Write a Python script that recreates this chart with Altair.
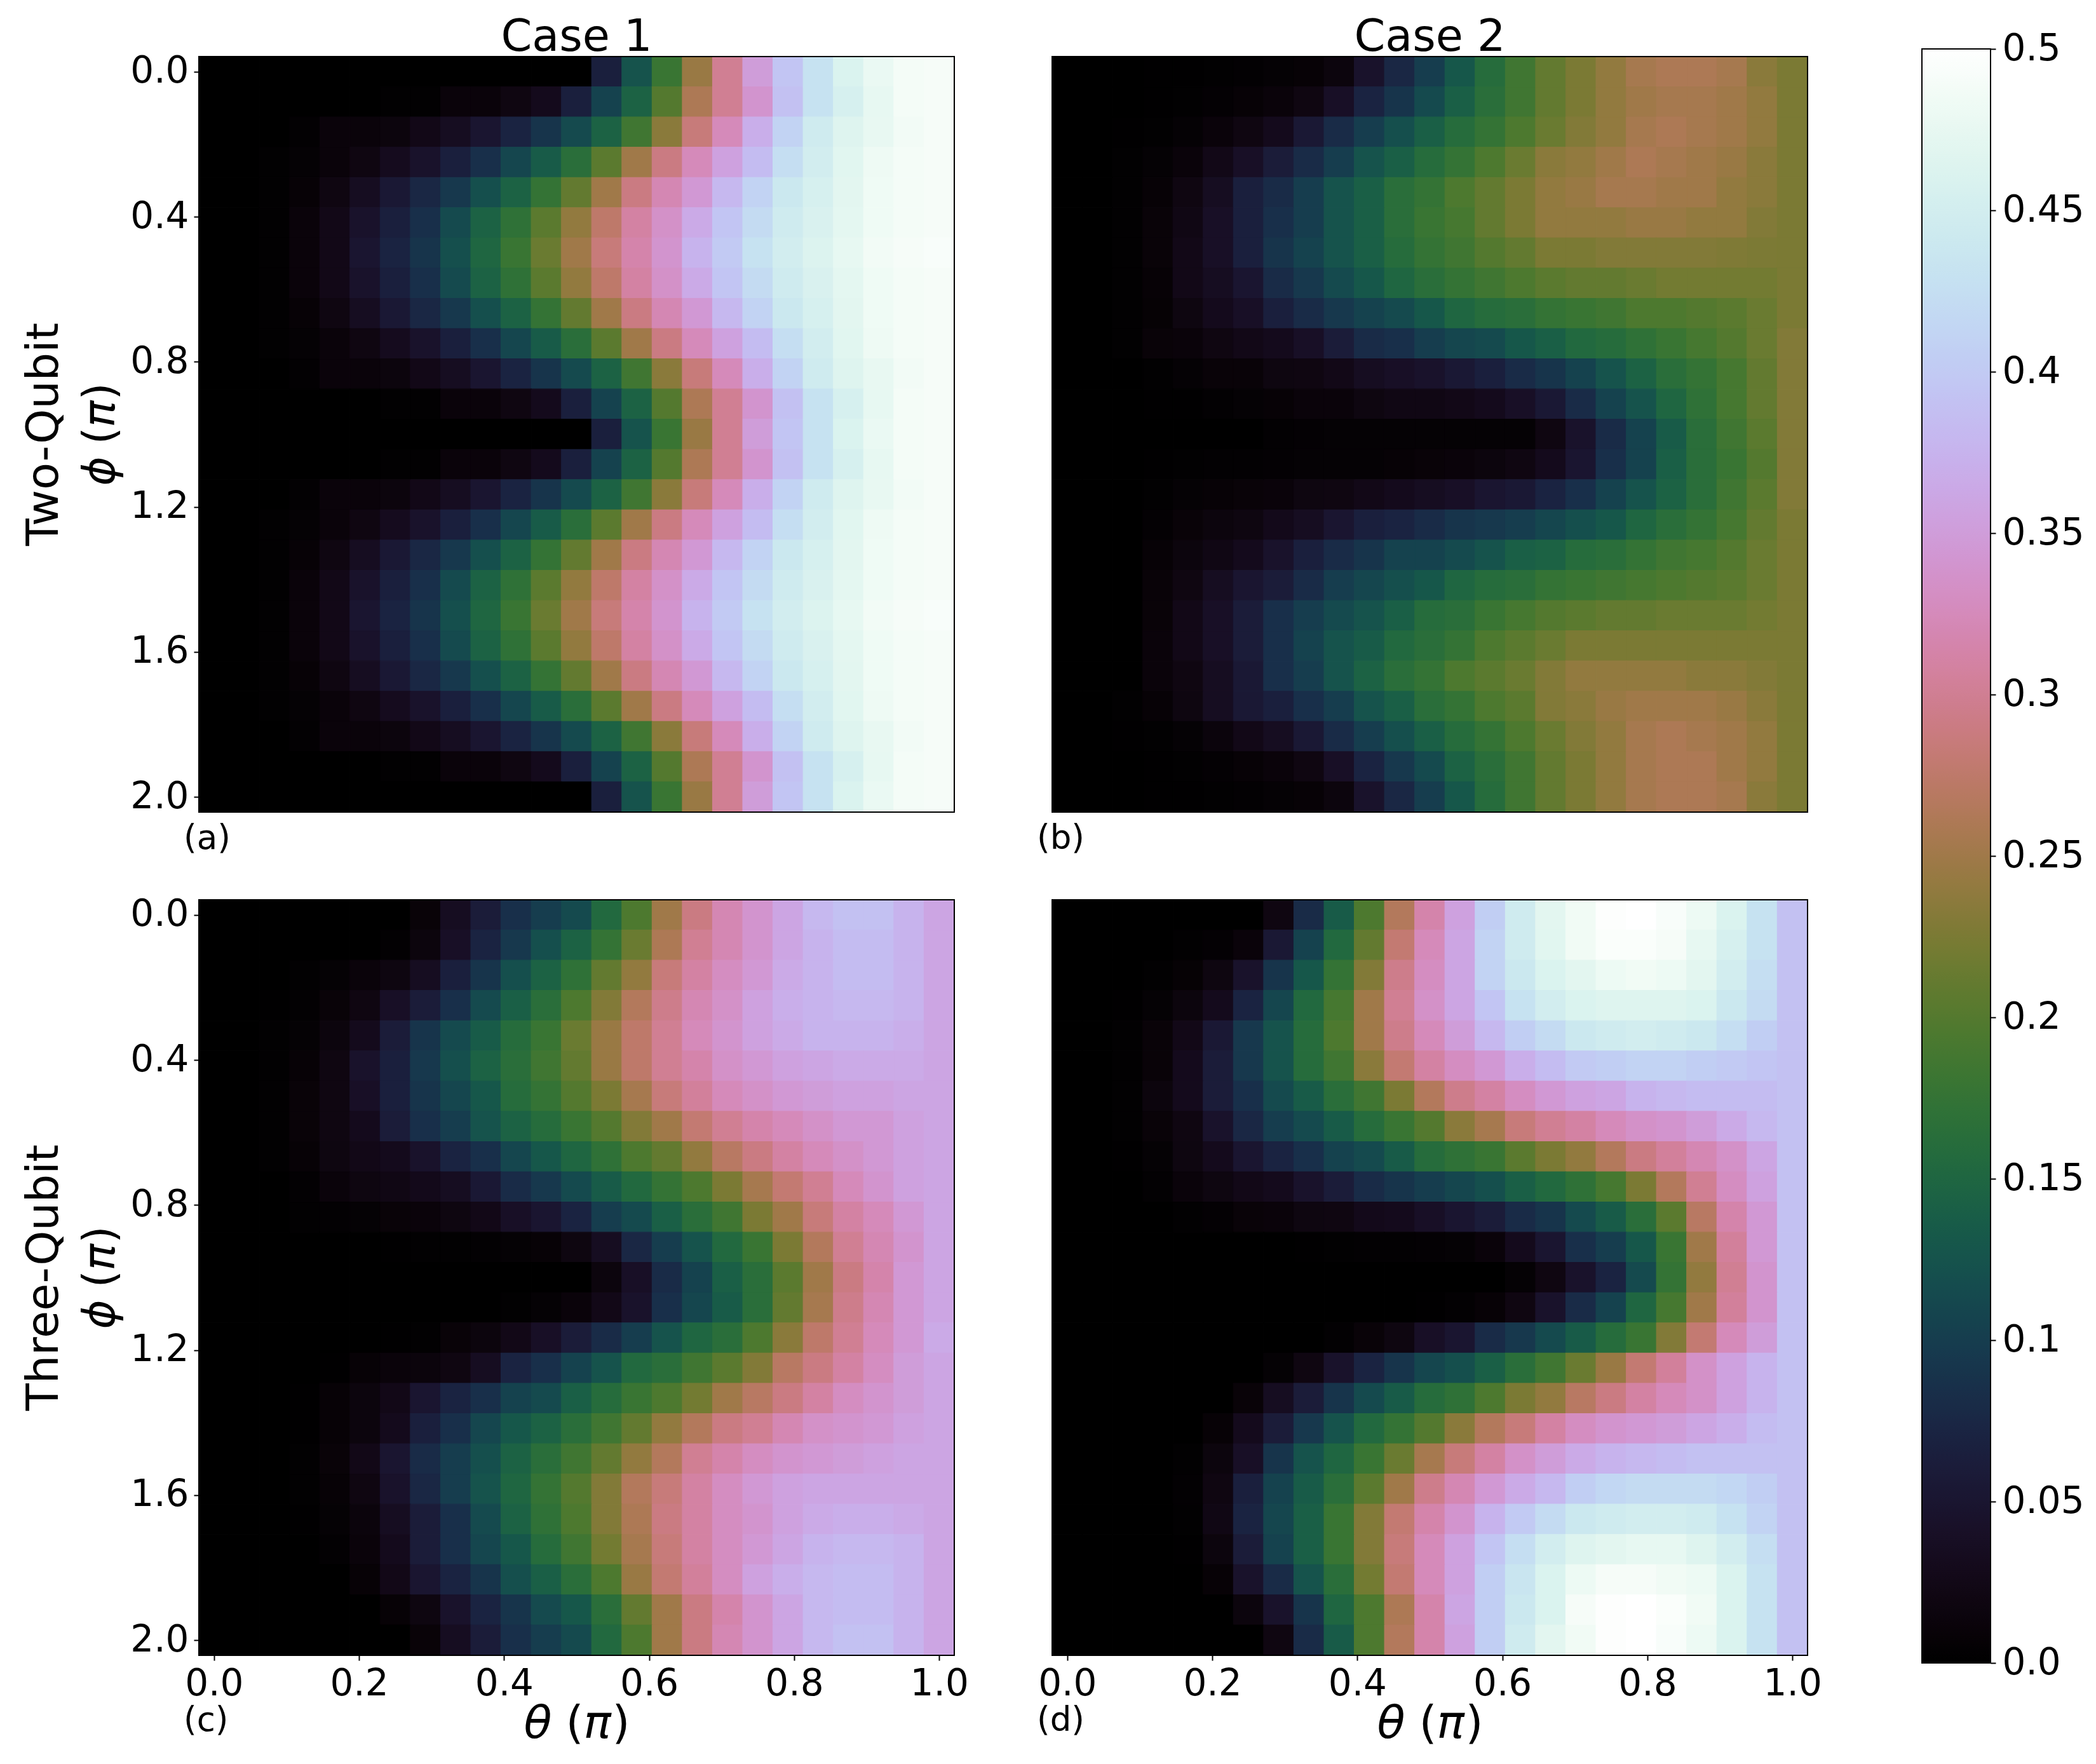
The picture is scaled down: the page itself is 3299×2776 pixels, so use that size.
import altair as alt
import numpy as np
import pandas as pd

FONT = "DejaVu Sans"
N = 25
THETA = [i / 24 for i in range(N)]
PHI = [i / 12 for i in range(N)]
X_TICKS = [0.0, 0.2, 0.4, 0.6, 0.8, 1.0]
Y_TICKS = [0.0, 0.4, 0.8, 1.2, 1.6, 2.0]
CBAR_TICKS = [0.0, 0.05, 0.1, 0.15, 0.2, 0.25, 0.3, 0.35, 0.4, 0.45, 0.5]

# Cell values in thousandths. Each row lists its cells up to the last
# column; the cells left out at the start of a row are black (zero).
A0 = [65,125,180,245,300,350,395,430,460,478,488,490]
A1 = [3,3,12,12,20,30,65,105,145,200,260,300,340,390,430,455,475,488,490]
A2 = [4,12,12,15,25,35,50,70,90,115,145,185,235,285,325,370,410,445,465,476,486,490]
A3 = [2,6,12,20,32,45,65,85,110,135,165,205,250,290,325,355,385,425,450,468,482,488,490]
A4 = [2,8,20,35,55,75,95,120,145,175,210,250,290,320,345,380,410,440,455,470,483,488,490]
A5 = [3,12,25,45,65,85,115,145,170,205,240,275,310,335,365,395,420,445,458,472,483,488,490]
A6 = [3,12,25,50,70,90,120,150,180,215,250,285,315,340,375,400,430,450,462,475,486,490,492]
PANEL_A = [A0,A1,A2,A3,A4,A5,A6,A5,A4,A3,A2,A1,A0,A1,A2,A3,A4,A5,A6,A5,A4,A3,A2,A1,A0]

PANEL_B = [
    [1,1,2,4,6,8,15,45,75,100,130,160,185,210,225,240,255,260,260,255,235,225],
    [1,3,5,8,12,20,40,70,90,115,140,165,185,210,225,240,250,255,255,250,240,225],
    [1,3,6,12,20,30,55,80,100,120,140,160,175,195,215,230,240,255,260,255,250,240,225],
    [2,6,12,25,40,60,80,100,125,140,160,175,195,215,235,240,250,260,255,250,245,235,225],
    [3,8,20,35,65,80,100,125,140,165,175,195,210,225,240,245,255,255,250,250,240,235,225],
    [3,10,22,40,65,85,100,125,140,165,180,190,210,225,240,240,240,245,245,240,240,230,225],
    [3,10,25,40,65,90,105,125,140,160,175,185,200,210,225,225,230,230,230,230,228,226,225],
    [2,8,25,35,50,80,95,115,130,150,165,175,185,195,205,210,210,215,220,220,220,220,225],
    [2,7,18,30,40,65,80,95,105,115,130,150,160,165,175,180,185,195,195,200,205,215,225],
    [2,10,12,20,25,30,40,60,80,85,100,110,115,130,140,155,160,170,180,190,200,215,230],
    [2,6,10,10,18,20,25,35,40,45,55,65,80,90,105,125,145,165,175,190,210,230],
    [1,1,4,6,8,12,12,18,22,22,25,30,40,55,80,105,125,150,170,190,210,230],
    [4,5,6,6,6,6,6,6,6,20,45,80,105,135,165,185,205,230],
    [1,3,4,4,5,6,6,6,8,10,12,15,20,30,50,85,105,140,165,180,200,230],
    [2,6,8,10,12,18,20,25,30,35,40,50,55,70,85,105,125,145,165,185,205,230],
    [5,10,15,18,28,35,50,65,70,80,90,95,100,110,120,130,150,165,175,190,210,225],
    [8,15,22,30,45,65,80,90,105,105,115,125,140,145,160,165,175,185,190,200,215,225],
    [10,20,35,50,60,80,100,110,120,130,150,160,165,175,180,185,190,195,200,205,215,225],
    [10,25,40,60,85,100,115,125,140,160,165,180,190,200,205,210,210,215,215,215,220,225],
    [12,25,40,60,85,105,125,135,155,165,175,195,205,215,225,225,225,225,225,225,225,225],
    [12,20,35,55,85,100,125,145,165,175,195,205,215,230,240,240,240,240,235,235,230,225],
    [2,8,18,35,55,65,85,100,125,140,165,175,195,205,230,235,245,250,250,250,245,235,225],
    [1,3,6,14,25,35,55,80,100,120,140,160,175,195,215,230,240,255,260,255,250,240,225],
    [1,3,5,8,12,20,40,70,95,115,145,165,185,210,225,240,255,260,260,250,240,225],
    [1,1,2,4,6,8,15,45,75,100,130,160,185,210,225,240,255,260,260,255,235,225],
]

PANEL_C = [
    [10,35,60,85,100,115,155,195,250,290,320,340,360,380,390,390,375,360],
    [4,15,40,70,95,120,145,175,215,260,300,320,340,360,375,385,385,375,360],
    [2,6,12,18,35,65,90,120,145,170,210,240,285,310,330,345,365,375,385,385,375,360],
    [1,4,10,20,40,60,85,115,140,165,195,230,265,295,320,335,355,370,375,380,380,375,360],
    [2,6,15,30,60,90,115,135,160,180,215,245,275,300,325,340,355,365,375,375,375,370,360],
    [2,8,20,45,65,95,120,145,165,185,210,245,275,300,315,335,345,355,360,365,365,365,360],
    [2,10,20,40,65,90,110,130,160,175,200,225,255,285,305,325,335,345,350,355,355,360,360],
    [2,10,20,30,60,85,100,125,145,160,180,200,230,250,280,300,315,325,335,345,345,355,360],
    [2,8,18,25,30,45,70,85,110,130,150,170,195,210,240,270,290,310,325,335,345,355,360],
    [4,12,18,22,28,35,55,80,95,115,135,155,175,195,225,255,280,300,325,340,355,360],
    [2,4,6,10,12,18,25,40,50,70,100,115,140,165,185,225,250,285,310,325,345,360],
    [1,2,3,4,6,8,18,35,75,100,125,155,180,225,265,300,320,340,360],
    [15,40,80,105,140,165,205,250,290,315,345,360],
    [2,6,12,25,45,85,110,135,165,210,255,295,320,345,360],
    [1,3,10,15,25,40,60,80,100,125,150,165,195,235,275,300,325,345,365],
    [1,8,12,14,20,35,70,85,105,125,155,165,185,205,230,270,290,310,330,350,360],
    [1,8,15,25,50,70,85,105,115,140,160,180,195,220,250,270,290,310,330,340,350,360],
    [1,8,15,30,65,85,110,130,145,165,185,210,240,265,290,300,320,335,340,345,355,360],
    [3,10,25,50,80,100,120,145,165,185,210,240,265,300,315,330,340,345,350,355,360,360],
    [3,8,20,45,75,100,125,150,175,200,230,265,285,310,330,345,355,360,360,360,360,360],
    [1,6,14,35,60,85,115,145,170,195,230,260,290,310,330,340,355,365,370,370,365,360],
    [4,12,30,60,85,110,130,160,185,220,255,285,310,330,345,360,375,380,380,375,360],
    [8,25,50,70,90,120,140,165,195,245,280,305,330,355,370,380,385,385,375,360],
    [8,18,45,70,90,115,130,165,210,250,290,315,340,360,380,385,385,375,360],
    [10,35,60,85,100,115,155,195,250,290,320,340,360,380,390,390,375,360],
]

PANEL_D = [
    [20,80,135,195,265,315,355,405,445,470,485,498,500,492,480,460,430,390],
    [2,5,12,55,105,155,210,280,325,360,410,445,468,485,495,495,490,475,455,430,390],
    [3,7,18,45,90,130,175,230,295,330,360,410,440,460,470,480,485,480,470,450,425,390],
    [1,6,15,30,70,110,155,190,250,300,335,360,395,430,450,460,465,465,465,460,440,420,390],
    [2,10,25,55,95,125,160,195,250,295,325,350,380,405,420,440,445,450,445,440,425,405,390],
    [2,10,30,60,95,125,160,185,235,280,310,330,345,370,385,400,405,410,410,405,400,395,390],
    [2,15,30,60,85,115,135,165,185,225,265,295,310,330,345,355,360,375,380,385,385,385,390],
    [2,10,20,45,75,100,115,135,160,180,200,235,255,285,300,310,325,335,340,350,365,380,390],
    [1,6,18,30,50,70,85,105,115,135,160,170,180,205,225,240,265,290,305,320,335,360,390],
    [4,12,18,25,30,45,60,80,90,100,110,120,140,155,170,190,225,265,300,330,355,390],
    [2,5,10,12,18,20,28,30,40,50,60,80,90,115,135,165,205,270,315,345,390],
    [1,3,4,4,5,6,12,30,50,85,100,130,180,250,305,345,390],
    [6,20,45,70,115,175,240,300,340,390],
    [1,4,8,20,45,80,105,150,190,250,305,340,390],
    [4,10,18,40,50,80,95,115,135,160,180,230,280,325,350,390],
    [6,20,45,70,90,110,120,140,165,185,215,245,280,305,335,355,375,390],
    [10,35,60,90,115,135,160,170,195,225,240,270,290,310,325,335,355,375,390],
    [8,30,60,95,125,155,175,200,235,265,285,310,330,340,345,350,360,370,385,390],
    [2,15,40,90,125,150,180,215,255,285,310,335,350,365,375,380,385,390,390,390,390],
    [4,20,65,105,135,165,205,250,295,320,345,365,380,405,415,420,420,420,415,405,390],
    [3,22,70,110,140,180,230,280,315,340,375,400,420,440,445,450,450,445,430,410,390],
    [1,15,60,105,140,180,230,285,325,355,395,425,450,465,470,475,475,465,450,425,390],
    [8,45,80,125,165,220,280,325,355,405,435,460,480,490,490,485,480,460,430,390],
    [15,45,90,150,195,260,315,360,405,440,460,490,498,500,495,485,460,430,390],
    [20,80,135,195,265,315,355,405,445,470,485,498,500,492,480,460,430,390],
]

VIEW = 1189
MID = VIEW / 2
COL_GAP = 154
ROW_GAP = 138
TICK_FONT = 58
TITLE_FONT = 70
LABEL_FONT = 70
THETA_FONT = 72
CAPTION_FONT = 53


def helix(x):
    a = x * (1 - x) / 2
    p = 2 * np.pi * (0.5 / 3 - 1.5 * x)
    r = x + a * (-0.14861 * np.cos(p) + 1.78277 * np.sin(p))
    g = x + a * (-0.29227 * np.cos(p) - 0.90649 * np.sin(p))
    b = x + a * (1.97294 * np.cos(p))
    rgb = [int(round(255 * min(1, max(0, c)))) for c in (r, g, b)]
    return "#%02x%02x%02x" % tuple(rgb)


STOP_X = [i / 128 for i in range(129)]
COLOR_RANGE = [helix(x) for x in STOP_X]
COLOR_DOMAIN = [x * 0.5 for x in STOP_X]
COLOR = alt.Scale(domain=COLOR_DOMAIN, range=COLOR_RANGE, interpolate="rgb")


def text(label, x, y, size, angle=0, align="center", style="normal", baseline="alphabetic"):
    return alt.Chart(pd.DataFrame({"t": [label]})).mark_text(
        font=FONT, fontSize=size, fontStyle=style, align=align, baseline=baseline,
        angle=angle, color="black",
    ).encode(x=alt.value(x), y=alt.value(y), text="t:N")


def axis(values, orient):
    return alt.Axis(
        values=values, orient=orient, title=None, format=".1f", grid=False, domain=False,
        labelFont=FONT, labelFontSize=TICK_FONT, labelColor="black", labelPadding=8,
        labelFlush=False, labelOverlap=False, tickSize=8, tickWidth=2, tickColor="black",
    )


def panel(rows, caption, caption_y, title=None, show_x=False, y_name=None):
    recs = []
    for j, row in enumerate(rows):
        full = [0] * (N - len(row)) + row
        for i, v in enumerate(full):
            recs.append({
                "t0": THETA[i] - 1 / 48, "t1": THETA[i] + 1 / 48,
                "p0": PHI[j] - 1 / 24, "p1": PHI[j] + 1 / 24, "v": v / 1000,
            })
    df = pd.DataFrame(recs)
    x_scale = alt.Scale(domain=[-1 / 48, 1 + 1 / 48])
    y_scale = alt.Scale(domain=[2 + 1 / 24, -1 / 24])
    cells = alt.Chart(df).mark_rect(strokeWidth=1.2).encode(
        x=alt.X("t0:Q", scale=x_scale, axis=axis(X_TICKS, "bottom") if show_x else None),
        x2="t1:Q",
        y=alt.Y("p0:Q", scale=y_scale, axis=axis(Y_TICKS, "left") if y_name else None),
        y2="p1:Q",
        color=alt.Color("v:Q", scale=COLOR, legend=None),
        stroke=alt.Stroke("v:Q", scale=COLOR, legend=None),
    )
    frame = alt.Chart(pd.DataFrame({"f": [1]})).mark_rect(
        filled=False, stroke="black", strokeWidth=2
    ).encode(x=alt.value(0), x2=alt.value(VIEW), y=alt.value(0), y2=alt.value(VIEW))
    layers = [cells, frame, text(caption, -24, caption_y, CAPTION_FONT, align="left")]
    if title:
        layers.append(text(title, MID, -9, TITLE_FONT))
    if show_x:
        base = VIEW + 130
        for part, dx, st in [("\u03b8", -83, "italic"), ("(", -17, "normal"),
                             ("\u03c0", 11, "italic"), (")", 56, "normal")]:
            layers.append(text(part, MID + dx, base, THETA_FONT, align="left", style=st))
    if y_name:
        layers.append(text(y_name, -222, MID, LABEL_FONT, angle=270))
        for part, dy, st in [("\u03d5", 81, "italic"), ("(", 16, "normal"),
                             ("\u03c0", -11, "italic"), (")", -54, "normal")]:
            layers.append(text(part, -133, MID + dy, LABEL_FONT, angle=270, align="left", style=st))
    return alt.layer(*layers).properties(width=VIEW, height=VIEW)


a = panel(PANEL_A, "(a)", VIEW + 58, title="Case 1", y_name="Two-Qubit")
b = panel(PANEL_B, "(b)", VIEW + 58, title="Case 2")
c = panel(PANEL_C, "(c)", VIEW + 119, show_x=True, y_name="Three-Qubit")
d = panel(PANEL_D, "(d)", VIEW + 119, show_x=True)

GRAD_STOPS = [alt.GradientStop(offset=x, color=col) for x, col in zip(STOP_X, COLOR_RANGE)]
CBAR_GRADIENT = alt.LinearGradient(gradient="linear", stops=GRAD_STOPS, x1=0, x2=0, y1=1, y2=0)
cbar_axis = alt.Axis(
    values=CBAR_TICKS, orient="right", title=None, grid=False, domain=False,
    labelFont=FONT, labelFontSize=TICK_FONT, labelColor="black", labelPadding=10,
    labelFlush=False, labelOverlap=False, tickSize=8, tickWidth=2, tickColor="black",
    labelExpr="datum.value == 0 ? '0.0' : format(datum.value, '.2~f')",
)
cbar = alt.Chart(pd.DataFrame({"lo": [0.0], "hi": [0.5]})).mark_rect(
    fill=CBAR_GRADIENT, stroke="black", strokeWidth=2
).encode(
    x=alt.value(26), x2=alt.value(134),
    y=alt.Y("lo:Q", scale=alt.Scale(domain=[0, 0.5], range=[2528, -12]), axis=cbar_axis),
    y2="hi:Q",
).properties(width=134, height=VIEW)

chart = alt.concat(
    a, b, cbar, c, d, columns=3, spacing={"row": ROW_GAP, "column": COL_GAP},
    bounds="flush", align="each",
).configure_view(stroke=None).properties(
    background="white", padding={"left": 27, "top": 16, "right": 5, "bottom": 5},
)
chart.save("out.html", embed_options={"renderer": "svg", "actions": False})
